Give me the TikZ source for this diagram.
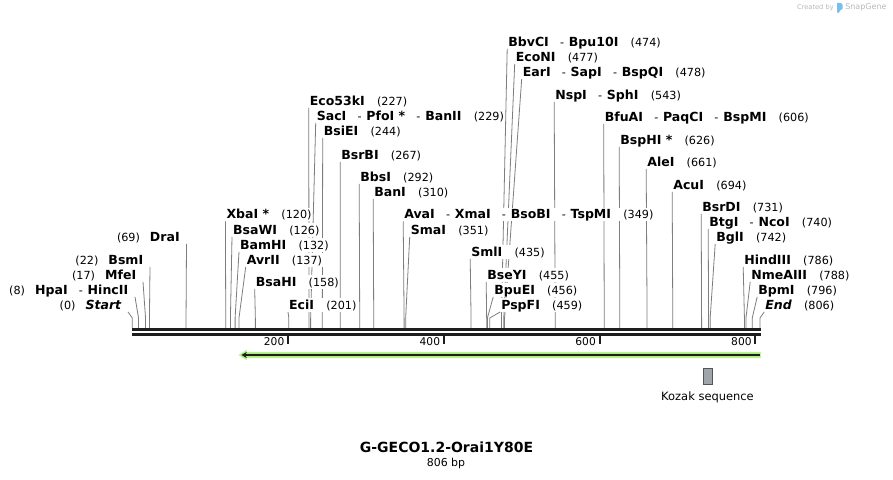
\documentclass[tikz,border=0pt]{standalone}
\usepackage{fontspec}
\setmainfont{DejaVu Sans}
\usetikzlibrary{calc,arrows.meta}
\pgfdeclarelayer{bg}
\pgfsetlayers{bg,main}
\definecolor{cutgray}{RGB}{125,125,125}
\definecolor{bbblack}{RGB}{30,30,30}
\definecolor{featgreen}{RGB}{170,236,118}
\definecolor{featedge}{RGB}{196,246,160}
\definecolor{kozakfill}{RGB}{160,165,172}
\definecolor{kozakedge}{RGB}{85,85,85}
\definecolor{wmgray}{RGB}{185,185,185}
\definecolor{wmblue}{RGB}{120,190,240}
\newcommand\nm[1]{{\fontsize{9.4}{11}\selectfont\bfseries #1}}
\newcommand\bpn[1]{{\fontsize{8.4}{10}\selectfont #1}}
\newcommand\gp{\hspace{9.2pt}}
\newcommand\gpl{\hspace{7.5pt}}
\newcommand\dsh{\hspace{8.4pt}{\fontsize{8.4}{10}\selectfont -}\hspace{3.6pt}}
\tikzset{
  lblR/.style={anchor=west,fill=white,inner xsep=0.4pt,inner ysep=0.5pt,text height=7.6pt,text depth=1.4pt},
  lblL/.style={anchor=east,fill=white,inner xsep=0.4pt,inner ysep=0.5pt,text height=7.6pt,text depth=1.4pt},
  cutline/.style={draw=cutgray,line width=0.6pt},
  ticklbl/.style={anchor=east,inner sep=0pt,font=\fontsize{8}{10}\selectfont},
}
\newcommand\siteR[5]{%
  \node[lblR] (#1) at (#3,#4) {#5};
  \coordinate (#1-k) at ({132.3+#2*0.7788},318);
  \coordinate (#1-b) at ({132.3+#2*0.7788},328.5);
  \begin{pgfonlayer}{bg}
  \draw[cutline] ($(#1.south west)+(-0.3,0)$) -- (#1-k) -- (#1-b);
  \end{pgfonlayer}}
\newcommand\siteL[5]{%
  \node[lblL] (#1) at (#3,#4) {#5};
  \coordinate (#1-k) at ({132.3+#2*0.7788},318);
  \coordinate (#1-b) at ({132.3+#2*0.7788},328.5);
  \begin{pgfonlayer}{bg}
  \draw[cutline] ($(#1.south east)+(6,0)$) -- (#1-k) -- (#1-b);
  \end{pgfonlayer}}
\begin{document}
\begin{tikzpicture}[x=0.75pt,y=-0.75pt]
\begin{pgfonlayer}{bg}
\fill[white] (0,0) rectangle (893,479);
\end{pgfonlayer}
\useasboundingbox (0,0) rectangle (893,479);

% left-side sites
\siteL{dra}{69}{180.5}{237}{\bpn{(69)}\gpl\nm{DraI}}
\siteL{bsm}{22}{144}{260}{\bpn{(22)}\gpl\nm{BsmI}}
\siteL{mfe}{17}{137}{275}{\bpn{(17)}\gpl\nm{MfeI}}
\siteL{hpa}{8}{129}{290}{\bpn{(8)}\gpl\nm{HpaI}\dsh\nm{HincII}}
\siteL{start}{0}{122}{305}{\bpn{(0)}\gpl\nm{\itshape Start}}

% right-side sites
\siteR{xba}{120}{225.7}{214.5}{\nm{XbaI *}\gp\bpn{(120)}}
\siteR{bsaw}{126}{232.3}{230}{\nm{BsaWI}\gp\bpn{(126)}}
\siteR{bamh}{132}{239.3}{245}{\nm{BamHI}\gp\bpn{(132)}}
\siteR{avr}{137}{246}{260}{\nm{AvrII}\gp\bpn{(137)}}
\siteR{bsah}{158}{255}{282}{\nm{BsaHI}\gp\bpn{(158)}}
\siteR{eci}{201}{288.3}{305}{\nm{EciI}\gp\bpn{(201)}}
\siteR{ecok}{227}{309}{101}{\nm{Eco53kI}\gp\bpn{(227)}}
\siteR{sac}{229}{316}{116}{\nm{SacI}\dsh\nm{PfoI *}\dsh\nm{BanII}\gp\bpn{(229)}}
\siteR{bsie}{244}{323}{131}{\nm{BsiEI}\gp\bpn{(244)}}
\siteR{bsrb}{267}{340.5}{155}{\nm{BsrBI}\gp\bpn{(267)}}
\siteR{bbs}{292}{359.5}{177}{\nm{BbsI}\gp\bpn{(292)}}
\siteR{ban}{310}{373.5}{192}{\nm{BanI}\gp\bpn{(310)}}
\siteR{ava}{349}{403.5}{214.5}{\nm{AvaI}\dsh\nm{XmaI}\dsh\nm{BsoBI}\dsh\nm{TspMI}\gp\bpn{(349)}}
\siteR{sma}{351}{410}{230}{\nm{SmaI}\gp\bpn{(351)}}
\siteR{sml}{435}{470.5}{252}{\nm{SmlI}\gp\bpn{(435)}}
\siteR{bsey}{455}{486.5}{275}{\nm{BseYI}\gp\bpn{(455)}}
\siteR{bpue}{456}{493.5}{290}{\nm{BpuEI}\gp\bpn{(456)}}
\siteR{pspf}{459}{500.5}{305}{\nm{PspFI}\gp\bpn{(459)}}
\siteR{bbvc}{474}{507.5}{42}{\nm{BbvCI}\dsh\nm{Bpu10I}\gp\bpn{(474)}}
\siteR{econ}{477}{515}{57}{\nm{EcoNI}\gp\bpn{(477)}}
\siteR{ear}{478}{522}{72}{\nm{EarI}\dsh\nm{SapI}\dsh\nm{BspQI}\gp\bpn{(478)}}
\siteR{nsp}{543}{554.5}{95}{\nm{NspI}\dsh\nm{SphI}\gp\bpn{(543)}}
\siteR{bfua}{606}{604}{117}{\nm{BfuAI}\dsh\nm{PaqCI}\dsh\nm{BspMI}\gp\bpn{(606)}}
\siteR{bsph}{626}{619.5}{140}{\nm{BspHI *}\gp\bpn{(626)}}
\siteR{ale}{661}{646.5}{162}{\nm{AleI}\gp\bpn{(661)}}
\siteR{acu}{694}{672.5}{185}{\nm{AcuI}\gp\bpn{(694)}}
\siteR{bsrd}{731}{701.5}{207}{\nm{BsrDI}\gp\bpn{(731)}}
\siteR{btg}{740}{708.5}{222}{\nm{BtgI}\dsh\nm{NcoI}\gp\bpn{(740)}}
\siteR{bgl}{742}{715.5}{237}{\nm{BglI}\gp\bpn{(742)}}
\siteR{hind}{786}{743.5}{260}{\nm{HindIII}\gp\bpn{(786)}}
\siteR{nme}{788}{750.5}{275}{\nm{NmeAIII}\gp\bpn{(788)}}
\siteR{bpm}{796}{757.5}{290}{\nm{BpmI}\gp\bpn{(796)}}
\siteR{endx}{806}{764.5}{305}{\nm{\itshape End}\gp\bpn{(806)}}

% backbone
\coordinate (bbL1) at (132.3,329.5);
\coordinate (bbR1) at (760.8,329.5);
\coordinate (bbL2) at (132.3,334.3);
\coordinate (bbR2) at (760.8,334.3);
\draw[bbblack,line width=1.7pt] (bbL1) -- (bbR1);
\draw[bbblack,line width=2.3pt] (bbL2) -- (bbR2);

% ticks
\foreach \n in {200,400,600,800}{
  \coordinate (tk\n) at ({132.3+\n*0.7788},335.5);
  \coordinate (tb\n) at ({132.3+\n*0.7788},343.5);
  \draw[bbblack,line width=1.5pt] (tk\n) -- (tb\n);
  \node[ticklbl] (tl\n) at ({132.3+\n*0.7788-3.5},341.5) {\n};
}

% feature arrow
\fill[featgreen,draw=featedge,line width=0.5pt] (239,355) -- (246.5,350.2) -- (246.5,352.2) -- (760.5,352.2) -- (760.5,357.8) -- (246.5,357.8) -- (246.5,359.8) -- cycle;
\coordinate (fa1) at (759.5,355);
\coordinate (fa2) at (241.5,355);
\draw[bbblack,line width=1.4pt,-{Stealth[length=4pt,width=4.5pt]}] (fa1) -- (fa2);

% Kozak
\node[draw=kozakedge,fill=kozakfill,line width=0.6pt,minimum width=6.6pt,minimum height=12pt,inner sep=0pt] (kozak) at (707.5,376) {};
\node[inner sep=0pt,font=\fontsize{8.6}{10}\selectfont] (kozaklbl) at (707.5,397.5) {Kozak sequence};

% title
\node[inner sep=0pt,font=\fontsize{10.5}{12}\selectfont\bfseries] (title) at (446.5,447.5) {G-GECO1.2-Orai1Y80E};
\node[inner sep=0pt,font=\fontsize{8.2}{10}\selectfont] (size) at (446,463.5) {806 bp};

% watermark
\node[inner sep=0pt,anchor=east,text=wmgray,font=\fontsize{5}{6}\selectfont] (wm1) at (834,7.5) {Created by};
\fill[wmblue,rounded corners=0.8pt] (837,2.5) -- (842.5,3.5) -- (842.5,9.5) -- (839.5,10.2) -- (839.5,13) -- (837,13) -- cycle;
\node[inner sep=0pt,anchor=west,text=wmgray,font=\fontsize{6}{7}\selectfont] (wm2) at (845,7.5) {SnapGene};
\end{tikzpicture}
\end{document}
